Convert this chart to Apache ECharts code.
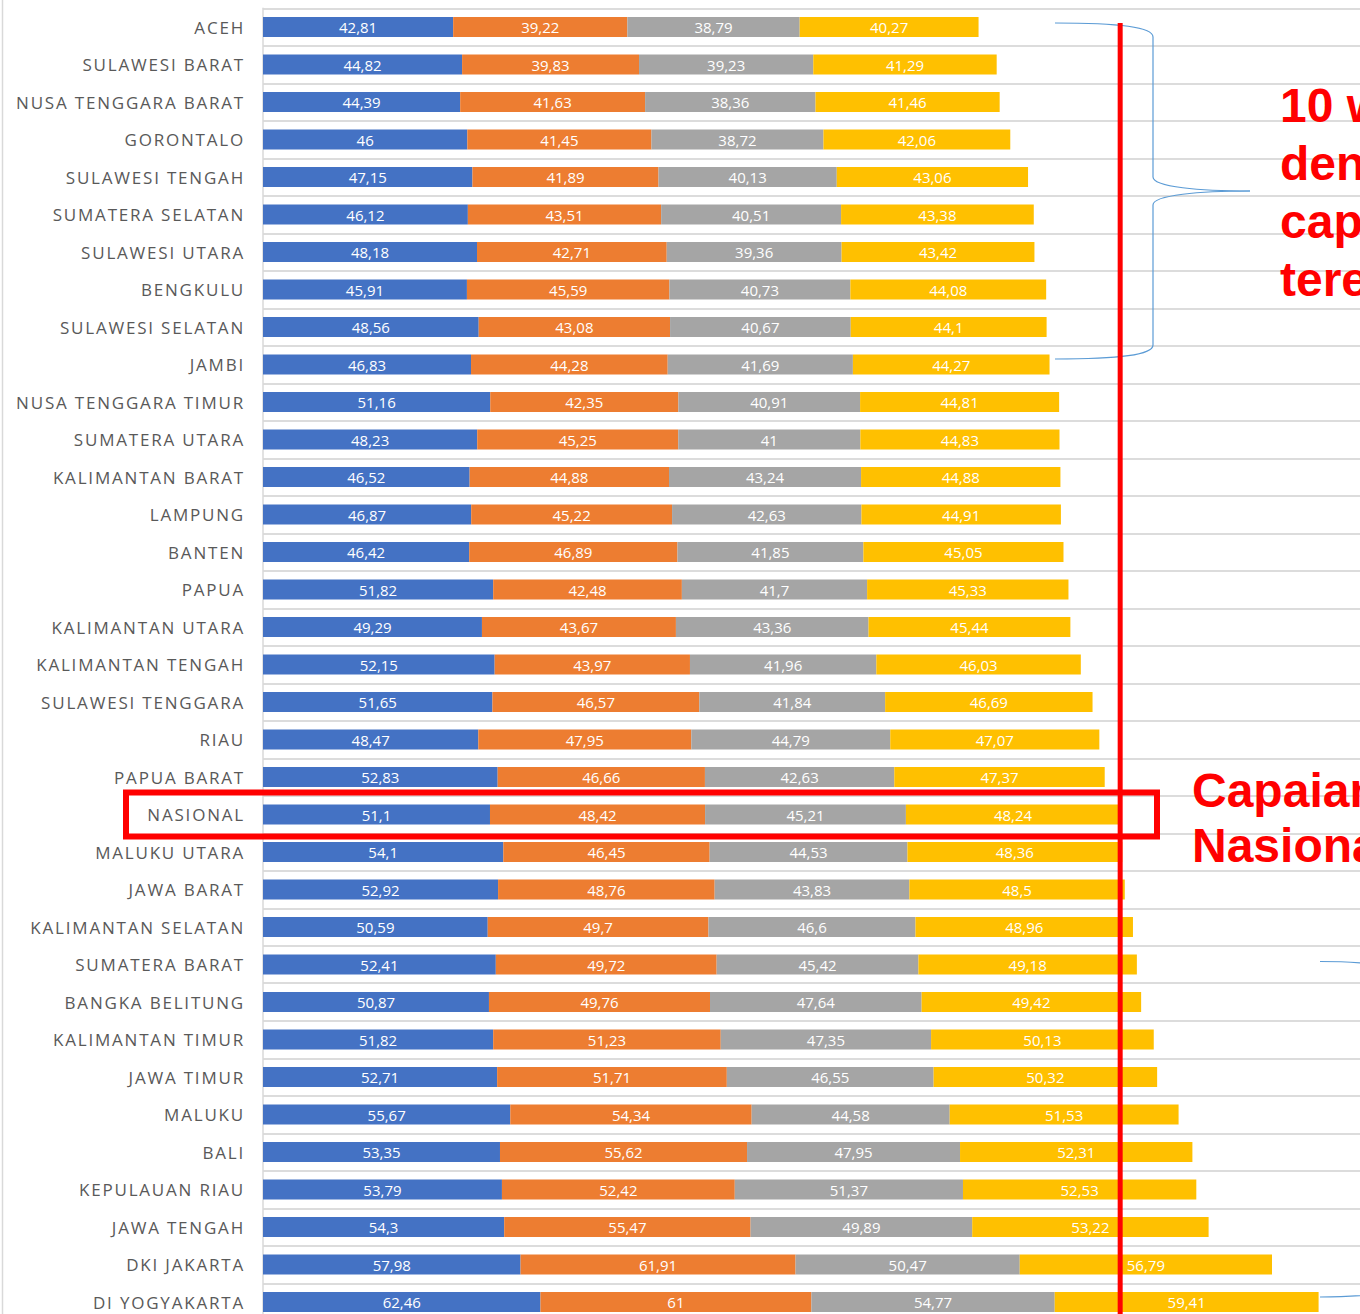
<!DOCTYPE html>
<html><head><meta charset="utf-8">
<script src="https://cdn.jsdelivr.net/npm/echarts@6/dist/echarts.min.js"></script>
<style>
html,body{margin:0;padding:0;background:#fff;}
#chart{width:1360px;height:1314px;}
#chart text[fill="#595959"]{letter-spacing:1.8px;}
</style></head><body><div id="chart"></div>
<script>
const categories = ['ACEH','SULAWESI BARAT','NUSA TENGGARA BARAT','GORONTALO','SULAWESI TENGAH','SUMATERA SELATAN','SULAWESI UTARA','BENGKULU','SULAWESI SELATAN','JAMBI','NUSA TENGGARA TIMUR','SUMATERA UTARA','KALIMANTAN BARAT','LAMPUNG','BANTEN','PAPUA','KALIMANTAN UTARA','KALIMANTAN TENGAH','SULAWESI TENGGARA','RIAU','PAPUA BARAT','NASIONAL','MALUKU UTARA','JAWA BARAT','KALIMANTAN SELATAN','SUMATERA BARAT','BANGKA BELITUNG','KALIMANTAN TIMUR','JAWA TIMUR','MALUKU','BALI','KEPULAUAN RIAU','JAWA TENGAH','DKI JAKARTA','DI YOGYAKARTA'];
const seriesBlue = [42.81,44.82,44.39,46,47.15,46.12,48.18,45.91,48.56,46.83,51.16,48.23,46.52,46.87,46.42,51.82,49.29,52.15,51.65,48.47,52.83,51.1,54.1,52.92,50.59,52.41,50.87,51.82,52.71,55.67,53.35,53.79,54.3,57.98,62.46];
const seriesOrange = [39.22,39.83,41.63,41.45,41.89,43.51,42.71,45.59,43.08,44.28,42.35,45.25,44.88,45.22,46.89,42.48,43.67,43.97,46.57,47.95,46.66,48.42,46.45,48.76,49.7,49.72,49.76,51.23,51.71,54.34,55.62,52.42,55.47,61.91,61];
const seriesGray = [38.79,39.23,38.36,38.72,40.13,40.51,39.36,40.73,40.67,41.69,40.91,41,43.24,42.63,41.85,41.7,43.36,41.96,41.84,44.79,42.63,45.21,44.53,43.83,46.6,45.42,47.64,47.35,46.55,44.58,47.95,51.37,49.89,50.47,54.77];
const seriesYellow = [40.27,41.29,41.46,42.06,43.06,43.38,43.42,44.08,44.1,44.27,44.81,44.83,44.88,44.91,45.05,45.33,45.44,46.03,46.69,47.07,47.37,48.24,48.36,48.5,48.96,49.18,49.42,50.13,50.32,51.53,52.31,52.53,53.22,56.79,59.41];
const nationalLabel = 'NASIONAL';
const noteTop = ['10 wilayah','dengan','capaian','terendah'];
const noteNational = ['Capaian','Nasional'];

const chart = echarts.init(document.getElementById('chart'), null, {renderer:'svg'});
const fmt = p => String(p.value).replace('.', ',');
function mk(name, data, color){
  return {
    name, type:'bar', stack:'total', data, barWidth:20, silent:true,
    itemStyle:{color},
    emphasis:{disabled:true},
    label:{show:true, position:'inside', color:'#ffffff', fontSize:15, fontFamily:'Open Sans', textBorderWidth:0, formatter:fmt}
  };
}
chart.setOption({
  animation:false,
  grid:{left:263, top:8.25, height:1312.5, width:1110.5, outerBoundsMode:'none', containLabel:false},
  xAxis:{type:'value', min:0, max:250, show:false},
  yAxis:{
    type:'category', data:categories, inverse:true,
    axisLine:{lineStyle:{color:'#d9d9d9', width:1.5}},
    axisTick:{show:false},
    axisLabel:{color:'#595959', fontSize:17, fontFamily:'Open Sans', margin:18},
    splitLine:{show:true, lineStyle:{color:'#dcdcdc', width:2}}
  },
  series:[
    mk('Seri 1', seriesBlue, '#4472C4'),
    mk('Seri 2', seriesOrange, '#ED7D31'),
    mk('Seri 3', seriesGray, '#A5A5A5'),
    mk('Seri 4', seriesYellow, '#FFC000')
  ]
});

const ni = categories.indexOf(nationalLabel);
const natTotal = seriesBlue[ni] + seriesOrange[ni] + seriesGray[ni] + seriesYellow[ni];
const lineX = chart.convertToPixel({xAxisIndex:0}, natTotal);
const natY = chart.convertToPixel({yAxisIndex:0}, nationalLabel);
const redFont = 'bold 48px "Liberation Sans", Arial, sans-serif';
const braceStyle = {fill:'none', stroke:'#5b9bd5', lineWidth:1.2};
function bz(x1,y1,cx1,cy1,cx2,cy2,x2,y2){
  return {type:'bezierCurve', z:90, silent:true, shape:{x1,y1,cpx1:cx1,cpy1:cy1,cpx2:cx2,cpy2:cy2,x2,y2}, style:braceStyle};
}
function ln(x1,y1,x2,y2){
  return {type:'line', z:90, silent:true, shape:{x1,y1,x2,y2}, style:braceStyle};
}
const graphics = [
  {type:'line', z:50, silent:true, shape:{x1:2.5, y1:0, x2:2.5, y2:1314}, style:{stroke:'#d9d9d9', lineWidth:1.5}},
  {type:'line', z:100, silent:true, shape:{x1:lineX, y1:23, x2:lineX, y2:1320}, style:{stroke:'#ff0000', lineWidth:5}},
  {type:'rect', z:100, silent:true, shape:{x:126, y:natY-22, width:1031, height:44}, style:{fill:'none', stroke:'#ff0000', lineWidth:6}},
  bz(1055,23, 1120,23, 1153,27, 1153,37),
  ln(1153,37, 1153,177),
  bz(1153,177, 1153,187, 1200,191, 1250,191),
  bz(1250,191, 1200,191, 1153,195, 1153,205),
  ln(1153,205, 1153,345),
  bz(1153,345, 1153,355, 1120,359, 1055,359),
  bz(1320,961.5, 1345,961.5, 1362,962.5, 1380,965),
  bz(1320,1297, 1345,1297, 1362,1296, 1380,1293.5)
];
const topBase = [122,180,238,296];
noteTop.forEach((t,i)=>graphics.push({type:'text', z:100, silent:true, style:{text:t, x:1280, y:topBase[i]-17, fill:'#ff0000', font:redFont, align:'left', verticalAlign:'middle'}}));
const natBase = [807,862];
noteNational.forEach((t,i)=>graphics.push({type:'text', z:100, silent:true, style:{text:t, x:1192, y:natBase[i]-17, fill:'#ff0000', font:redFont, align:'left', verticalAlign:'middle'}}));
chart.setOption({graphic:graphics});
</script></body></html>
